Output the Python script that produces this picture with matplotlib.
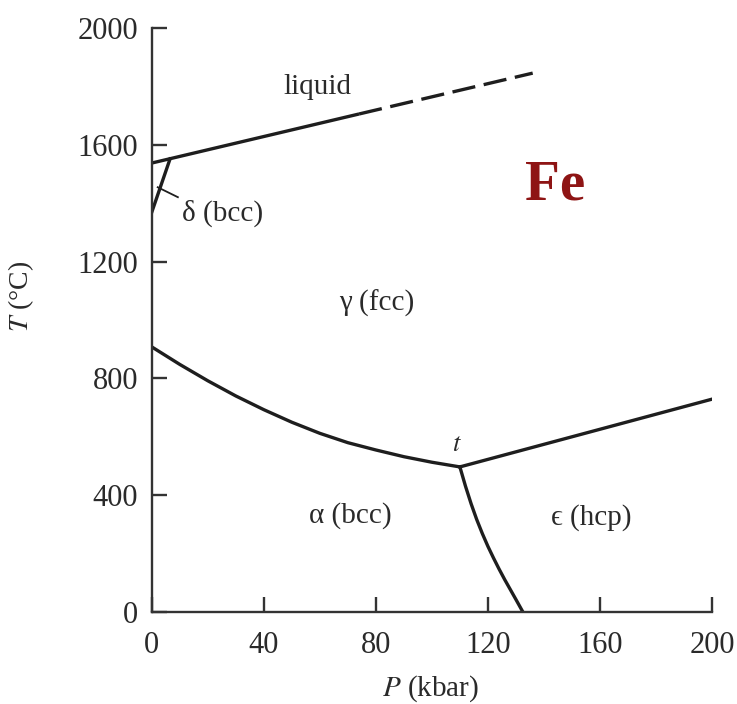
import matplotlib
matplotlib.use("Agg")
import matplotlib.pyplot as plt

plt.rcParams["mathtext.fontset"] = "stix"

# ---- data ----
liquid_solid_P = [0, 74]
liquid_solid_T = [1538, 1706]
liquid_dash_P = [74, 136]
liquid_dash_T = [1706, 1846]

delta_gamma_P = [0, 6.5]
delta_gamma_T = [1370, 1552]

delta_pointer_P = [2.1, 9.3]
delta_pointer_T = [1455, 1421]

gamma_alpha_P = [0, 10, 20, 30, 40, 50, 60, 70, 80, 90, 100, 110]
gamma_alpha_T = [908, 848, 792, 740, 693, 650, 612, 580, 555, 532, 513, 497]

gamma_eps_P = [110, 200]
gamma_eps_T = [497, 729]

alpha_eps_P = [110, 112, 114, 116, 118, 120, 122, 124, 126, 128, 130, 132.5]
alpha_eps_T = [497, 431, 371, 317, 269, 225, 185, 147, 111, 77, 43, 0]

x_ticks = [0, 40, 80, 120, 160, 200]
y_ticks = [0, 400, 800, 1200, 1600, 2000]

labels = [
    ("liquid", 59.3, 1798),
    ("γ (fcc)", 80.4, 1058),
    ("α (bcc)", 70.7, 332),
    ("ϵ (hcp)", 157, 325),
]

SERIF = ["Liberation Serif", "DejaVu Serif"]
INK = "#1e1e1e"
TXT = "#2a2a2a"

fig = plt.figure(figsize=(7.37, 7.04), dpi=100)
ax = fig.add_axes([0.206, 0.1307, 0.76, 0.8293])

lw = 2.4
ax.plot(liquid_solid_P, liquid_solid_T, color=INK, lw=lw, solid_capstyle="butt")
ax.plot(liquid_dash_P, liquid_dash_T, color=INK, lw=lw, dashes=(7, 2.6))
ax.plot(delta_gamma_P, delta_gamma_T, color=INK, lw=lw)
ax.plot(delta_pointer_P, delta_pointer_T, color=INK, lw=1.3)
ax.plot(gamma_alpha_P, gamma_alpha_T, color=INK, lw=lw, solid_joinstyle="round")
ax.plot(gamma_eps_P, gamma_eps_T, color=INK, lw=lw)
ax.plot(alpha_eps_P, alpha_eps_T, color=INK, lw=lw, solid_joinstyle="round")

ax.set_xlim(0, 200)
ax.set_ylim(0, 2000)
ax.set_xticks(x_ticks)
ax.set_yticks(y_ticks)

for s in ["top", "right"]:
    ax.spines[s].set_visible(False)
for s in ["left", "bottom"]:
    ax.spines[s].set_linewidth(1.7)
    ax.spines[s].set_color("#333333")

ax.tick_params(direction="in", length=11, width=1.7, color="#333333",
               labelsize=22, labelcolor=TXT)
ax.tick_params(axis="x", pad=14)
ax.tick_params(axis="y", pad=10)
for lab in ax.get_xticklabels() + ax.get_yticklabels():
    lab.set_family(SERIF)

ax.set_xlabel("$P$ (kbar)", fontsize=21, family=SERIF, color=TXT)
ax.set_ylabel("$T$ (°C)", fontsize=20, family=SERIF, color=TXT)
ax.xaxis.set_label_coords(0.497, -0.105)
ax.yaxis.set_label_coords(-0.207, 0.54)

for txt, px, ty in labels:
    ax.text(px, ty, txt, ha="center", va="center", fontsize=21,
            family=SERIF, color=TXT)

ax.text(10.7, 1366, "δ (bcc)", ha="left", va="center", fontsize=21,
        family=SERIF, color=TXT)
ax.text(109, 575, "$t$", ha="center", va="center", fontsize=19, color=TXT)
ax.text(144, 1462, "Fe", ha="center", va="center", fontsize=41,
        family=SERIF, fontweight="bold", color="#8e1414")

fig.savefig("out.png", dpi=100)
